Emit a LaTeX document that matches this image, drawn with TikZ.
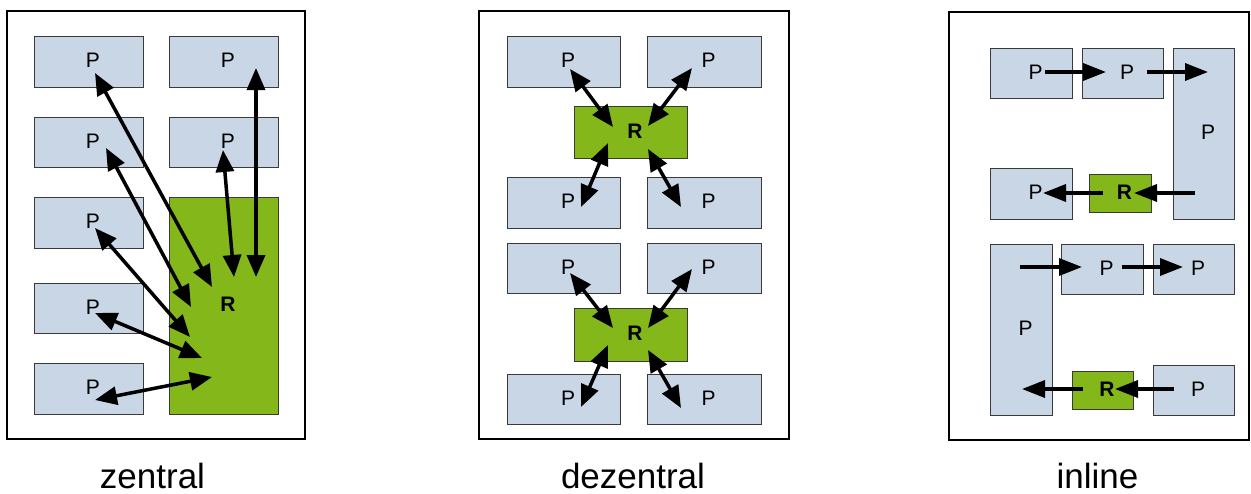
\documentclass[tikz,border=0pt]{standalone}
\usepackage{fontspec}
\setmainfont{Liberation Sans}
\usetikzlibrary{arrows.meta,calc}

\definecolor{pfill}{HTML}{C9D6E5}
\definecolor{rfill}{HTML}{83B71A}
\definecolor{edge}{HTML}{3A3A3A}

\tikzset{
  frame/.style={draw=black, line width=1.6pt, fill=white},
  boxtext/.style={font=\fontsize{21}{21}\selectfont, xshift=4.5pt, yshift=1pt, inner sep=0pt},
  pbox/.style={draw=edge, fill=pfill, line width=1pt, inner sep=0pt,
    label={[boxtext]center:P}},
  rbox/.style={draw=edge, fill=rfill, line width=1pt, inner sep=0pt,
    label={[boxtext, font=\fontsize{21}{21}\selectfont\bfseries]center:R}},
  wh/.style 2 args={minimum width=#1pt, minimum height=#2pt},
  both/.style={line width=3.5pt, {Triangle[length=22pt,width=18pt]}-{Triangle[length=22pt,width=18pt]}},
  flow/.style={line width=3.5pt, -{Triangle[length=23pt,width=17pt]}},
  caption/.style={font=\fontsize{35}{35}\selectfont, anchor=base, inner sep=0pt}
}

\begin{document}
\begin{tikzpicture}[x=1pt, y=-1pt]
\useasboundingbox (0,0) rectangle (1251,493);

% ---------- zentral ----------
\draw[frame] (7,11) rectangle (305,439);
\node[pbox, wh={109}{51}] (zl1) at (88.5,61.5) {};
\node[pbox, wh={109}{50}] (zl2) at (88.5,142) {};
\node[pbox, wh={109}{51}] (zl3) at (88.5,222.5) {};
\node[pbox, wh={109}{50}] (zl4) at (88.5,308) {};
\node[pbox, wh={109}{51}] (zl5) at (88.5,388.5) {};
\node[pbox, wh={109}{51}] (zr1) at (223.5,61.5) {};
\node[pbox, wh={109}{50}] (zr2) at (223.5,142) {};
\node[rbox, wh={109}{217}] (zR) at (223.5,305.5) {};

\draw[both] ($(zl1)+(6.5,11.5)$) -- ($(zR)+(-11.5,-18.5)$);
\draw[both] ($(zl2)+(17.5,6)$) -- ($(zR)+(-32.5,1.5)$);
\draw[both] ($(zl3)+(6.5,5.5)$) -- ($(zR)+(-33.5,31.5)$);
\draw[both] ($(zl4)+(6.5,5)$) -- ($(zR)+(-21.5,52.5)$);
\draw[both] ($(zl5)+(6.5,11.5)$) -- ($(zR)+(-11.5,71.5)$);
\draw[both] ($(zr2)+(-0.5,8)$) -- ($(zR)+(10.5,-28.5)$);
\draw[both] ($(zr1)+(32.5,6.5)$) -- ($(zR)+(32.5,-28.5)$);

\node[caption] (capz) at (152.5,488) {zentral};

% ---------- dezentral ----------
\draw[frame] (479,11) rectangle (789,439);
\node[pbox, wh={113}{51}] (dl1) at (563.5,61.5) {};
\node[pbox, wh={114}{51}] (dr1) at (704,61.5) {};
\node[pbox, wh={113}{51}] (dl2) at (563.5,202.5) {};
\node[pbox, wh={114}{51}] (dr2) at (704,202.5) {};
\node[pbox, wh={113}{50}] (dl3) at (563.5,268) {};
\node[pbox, wh={114}{50}] (dr3) at (704,268) {};
\node[pbox, wh={113}{50}] (dl4) at (563.5,399) {};
\node[pbox, wh={114}{50}] (dr4) at (704,399) {};
\node[rbox, wh={113}{52}] (dR1) at (630.5,132) {};
\node[rbox, wh={113}{53}] (dR2) at (630.5,334.5) {};

\draw[both] ($(dl1)+(6.5,7.5)$) -- ($(dR1)+(-17.5,-5)$);
\draw[both] ($(dr1)+(-12,6.5)$) -- ($(dR1)+(17.5,-6)$);
\draw[both] ($(dR1)+(-22.5,11)$) -- ($(dl2)+(17.5,4.5)$);
\draw[both] ($(dR1)+(17.5,17)$) -- ($(dr2)+(-23,4.5)$);

\draw[both] ($(dl3)+(6.5,5)$) -- ($(dR2)+(-17.5,-6.5)$);
\draw[both] ($(dr3)+(-12,1)$) -- ($(dR2)+(17.5,-6.5)$);
\draw[both] ($(dR2)+(-22.5,10.5)$) -- ($(dl4)+(17.5,8)$);
\draw[both] ($(dR2)+(17.5,15.5)$) -- ($(dr4)+(-23,9)$);

\node[caption] (capd) at (633,488) {dezentral};

% ---------- inline ----------
\draw[frame] (949,12) rectangle (1249,440);
\node[pbox, wh={82}{50}] (i1) at (1031,73) {};
\node[pbox, wh={81}{50}] (i2) at (1122.5,73) {};
\node[pbox, wh={61}{171}] (iT) at (1203.5,133.5) {};
\node[pbox, wh={82}{51}] (i4) at (1031,193.5) {};
\node[rbox, wh={62}{38}] (iR1) at (1120,193) {};
\node[pbox, wh={62}{171}] (iT2) at (1021,329.5) {};
\node[pbox, wh={82}{50}] (i5) at (1102,269) {};
\node[pbox, wh={81}{50}] (i6) at (1193.5,269) {};
\node[rbox, wh={61}{38}] (iR2) at (1102.5,390) {};
\node[pbox, wh={81}{50}] (i7) at (1193.5,390) {};

\draw[flow] ($(i1)+(14,-1)$) -- ($(i2)+(-16.5,-1)$);
\draw[flow] ($(i2)+(24.5,-1)$) -- ($(iT)+(4.5,-61.5)$);
\draw[flow] ($(iT)+(-8.5,59.5)$) -- ($(iR1)+(14,0)$);
\draw[flow] ($(iR1)+(-17,0)$) -- ($(i4)+(12,-0.5)$);
\draw[flow] ($(iT2)+(-1,-62.5)$) -- ($(i5)+(-20,-2)$);
\draw[flow] ($(i5)+(20,-2)$) -- ($(i6)+(-10.5,-2)$);
\draw[flow] ($(i7)+(-19.5,-1)$) -- ($(iR2)+(12.5,-1)$);
\draw[flow] ($(iR2)+(-19.5,-1)$) -- ($(iT2)+(1,59.5)$);

\node[caption] (capi) at (1097.5,488) {inline};
\end{tikzpicture}
\end{document}
